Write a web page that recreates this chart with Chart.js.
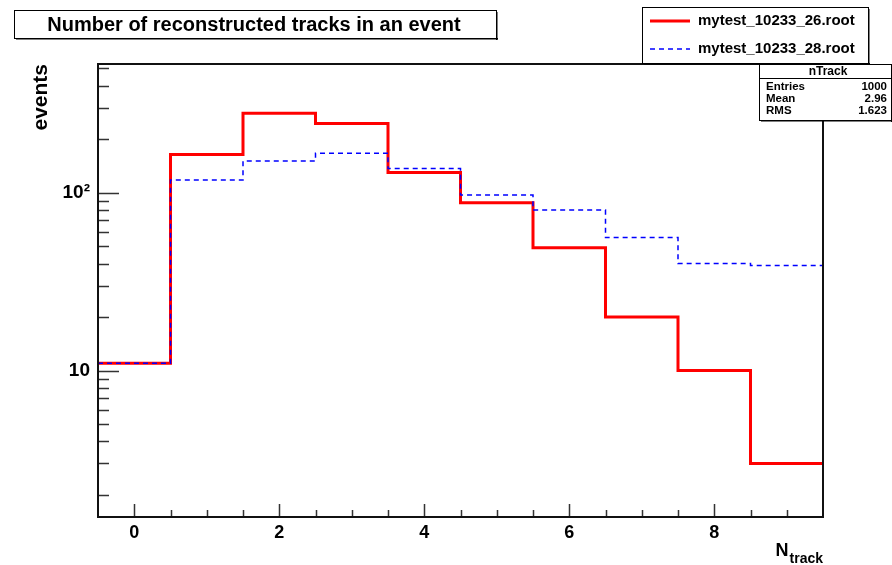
<!DOCTYPE html>
<html>
<head>
<meta charset="utf-8">
<script src="https://cdn.jsdelivr.net/npm/chart.js@4.4.0/dist/chart.umd.min.js"></script>
<style>
  html, body { margin: 0; padding: 0; background: #fff; }
  canvas { display: block; }
</style>
</head>
<body>
<canvas id="grafico" width="892" height="565"></canvas>
<script>
const bins = [0, 1, 2, 3, 4, 5, 6, 7, 8, 9];
const track26 = [11, 164, 280, 245, 130, 88, 49, 20, 10, 3];
const track28 = [11, 118, 151, 167, 137, 97, 80, 56, 40, 39];
const nombres = ["mytest_10233_26.root", "mytest_10233_28.root"];
const yMajor = [10, 100];
const yMinor = [2, 3, 4, 5, 6, 7, 8, 9, 20, 30, 40, 50, 60, 70, 80, 90, 200, 300, 400, 500];
const yLabels = { 10: "10", 100: "10²" };
const xLabels = ["0", "2", "4", "6", "8"];
const statsRows = [["Entries", "1000"], ["Mean", "2.96"], ["RMS", "1.623"]];

const FONT = "'Liberation Sans', Arial, sans-serif";

// bordes de cada bin para dibujar en escalon
function escalones(valores) {
  const pts = bins.map((b, i) => ({ x: b - 0.5, y: valores[i] }));
  pts.push({ x: bins[bins.length - 1] + 0.5, y: valores[valores.length - 1] });
  return pts;
}

const decoracion = {
  id: "decoracion",
  afterDraw(chart) {
    const ctx = chart.ctx;
    const a = chart.chartArea;
    const xs = chart.scales.x;
    const ys = chart.scales.y;
    ctx.save();

    // ticks hacia dentro, estilo ROOT
    ctx.strokeStyle = "#333";
    ctx.lineWidth = 1.5;
    ctx.beginPath();
    yMajor.forEach((v) => {
      const y = Math.round(ys.getPixelForValue(v)) + 0.5;
      ctx.moveTo(a.left, y);
      ctx.lineTo(a.left + 21, y);
    });
    yMinor.forEach((v) => {
      const y = Math.round(ys.getPixelForValue(v)) + 0.5;
      ctx.moveTo(a.left, y);
      ctx.lineTo(a.left + 11, y);
    });
    for (let v = 0; v < 9.5; v += 0.5) {
      const x = Math.round(xs.getPixelForValue(v)) + 0.5;
      const largo = v % 2 === 0 ? 13 : 7;
      ctx.moveTo(x, a.bottom);
      ctx.lineTo(x, a.bottom - largo);
    }
    ctx.stroke();

    // marco
    ctx.strokeStyle = "#111";
    ctx.lineWidth = 2;
    ctx.strokeRect(a.left, a.top, a.right - a.left, a.bottom - a.top);

    // titulos de ejes
    ctx.fillStyle = "#000";
    ctx.save();
    ctx.translate(41, a.top);
    ctx.rotate(-Math.PI / 2);
    ctx.font = "bold 21px " + FONT;
    ctx.textAlign = "right";
    ctx.textBaseline = "middle";
    ctx.fillText("events", 0, 0);
    ctx.restore();

    ctx.font = "bold 14px " + FONT;
    const wSub = ctx.measureText("track").width;
    ctx.textAlign = "left";
    ctx.textBaseline = "alphabetic";
    ctx.fillText("track", a.right - wSub, 563);
    ctx.font = "bold 18px " + FONT;
    const wN = ctx.measureText("N").width;
    ctx.fillText("N", a.right - wSub - wN - 1, 556);

    // caja de titulo
    caja(ctx, 14, 10, 482, 28);
    ctx.fillStyle = "#000";
    ctx.font = "bold 20px " + FONT;
    ctx.textAlign = "center";
    ctx.textBaseline = "middle";
    ctx.fillText("Number of reconstructed tracks in an event", 254, 25);

    // leyenda
    caja(ctx, 642, 7, 226, 56);
    chart.data.datasets.forEach((ds, i) => {
      const y = 21 + i * 28;
      ctx.strokeStyle = ds.borderColor;
      ctx.lineWidth = ds.borderWidth;
      ctx.setLineDash(ds.borderDash || []);
      ctx.beginPath();
      ctx.moveTo(650, y);
      ctx.lineTo(690, y);
      ctx.stroke();
      ctx.setLineDash([]);
      ctx.fillStyle = "#000";
      ctx.font = "bold 15px " + FONT;
      ctx.textAlign = "left";
      ctx.textBaseline = "middle";
      ctx.fillText(ds.label, 698, y);
    });

    // caja de estadisticas
    caja(ctx, 759, 64, 132, 56);
    ctx.strokeStyle = "#000";
    ctx.lineWidth = 1;
    ctx.beginPath();
    ctx.moveTo(759, 78.5);
    ctx.lineTo(891, 78.5);
    ctx.stroke();
    ctx.fillStyle = "#000";
    ctx.font = "bold 12px " + FONT;
    ctx.textAlign = "center";
    ctx.textBaseline = "middle";
    ctx.fillText("nTrack", 828, 71.5);
    ctx.font = "bold 11.5px " + FONT;
    statsRows.forEach((r, i) => {
      const y = 86.5 + i * 12;
      ctx.textAlign = "left";
      ctx.fillText(r[0], 766, y);
      ctx.textAlign = "right";
      ctx.fillText(r[1], 887, y);
    });

    ctx.restore();
  },
};

function caja(ctx, x, y, w, h) {
  ctx.fillStyle = "#fff";
  ctx.fillRect(x, y, w, h);
  ctx.fillStyle = "#000";
  ctx.fillRect(x + 2, y + h, w, 1.5);
  ctx.fillRect(x + w, y + 2, 1.5, h);
  ctx.strokeStyle = "#000";
  ctx.lineWidth = 1;
  ctx.strokeRect(x + 0.5, y + 0.5, w, h);
}

new Chart(document.querySelector("#grafico").getContext("2d"), {
  type: "line",
  data: {
    datasets: [
      {
        label: nombres[0],
        data: escalones(track26),
        borderColor: "#ff0000",
        borderWidth: 3,
        stepped: true,
        pointRadius: 0,
        fill: false,
        order: 1,
      },
      {
        label: nombres[1],
        data: escalones(track28),
        borderColor: "#0000ff",
        borderWidth: 1.5,
        borderDash: [5, 4],
        stepped: true,
        pointRadius: 0,
        fill: false,
        order: 0,
      },
    ],
  },
  options: {
    responsive: false,
    animation: false,
    layout: { padding: { top: 64, right: 69, left: 0, bottom: 0 } },
    plugins: { legend: { display: false }, tooltip: { enabled: false } },
    scales: {
      x: {
        type: "linear",
        min: -0.5,
        max: 9.5,
        afterBuildTicks: (s) => {
          s.ticks = xLabels.map((l) => ({ value: Number(l) }));
        },
        afterFit: (s) => {
          s.height = 48;
        },
        ticks: {
          callback: (v) => String(v),
          color: "#000",
          font: { family: FONT, size: 18, weight: "bold" },
          padding: 5,
          maxRotation: 0,
          autoSkip: false,
        },
        grid: { display: false, drawTicks: false },
        border: { display: false },
      },
      y: {
        type: "logarithmic",
        min: 1.5,
        max: 530,
        afterBuildTicks: (s) => {
          s.ticks = yMajor.map((v) => ({ value: v }));
        },
        afterFit: (s) => {
          s.width = 98;
        },
        ticks: {
          callback: (v) => yLabels[v] || "",
          color: "#000",
          font: { family: FONT, size: 19, weight: "bold" },
          padding: 8,
          autoSkip: false,
        },
        grid: { display: false, drawTicks: false },
        border: { display: false },
      },
    },
  },
  plugins: [decoracion],
});
</script>
</body>
</html>
